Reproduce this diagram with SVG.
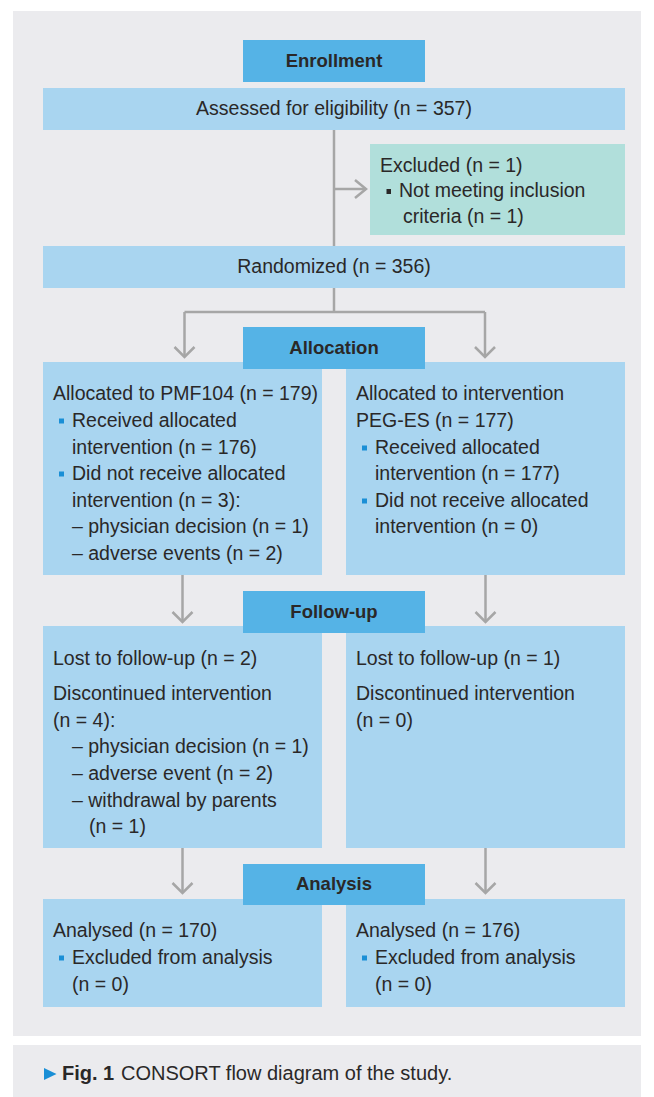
<svg xmlns="http://www.w3.org/2000/svg" width="654" height="1097" viewBox="0 0 654 1097">
<style>
text{font-family:"Liberation Sans",Arial,sans-serif;font-size:19.5px;fill:#2a2828}
.h{font-weight:bold;font-size:18.5px;text-anchor:middle}
.c{text-anchor:middle}
.cap{font-size:20px}
.hdr{fill:#55b3e6}
.box{fill:#a9d5f0}
.exc{fill:#b1dfdb}
.ln{stroke:#a6a6a6;stroke-width:2.5;fill:none}
.bl{fill:#1a8fd6}
</style>
<rect x="0" y="0" width="654" height="1097" fill="#ffffff"/>
<rect x="13" y="11" width="628" height="1025" fill="#ebebee"/>
<rect x="13" y="1045" width="628" height="52" fill="#ebebee"/>
<g id="connectors">
<path class="ln" d="M334 130 V246 M334 189 H366"/>
<polyline class="ln" points="355,180 366,189 355,198"/>
<path class="ln" d="M334 288 V312 M184.5 312 H485 M184.5 312 V357 M485 312 V357"/>
<polyline class="ln" points="174.5,347 184.5,357 194.5,347"/>
<polyline class="ln" points="475,347 485,357 495,347"/>
<path class="ln" d="M182.5 575 V622 M485.5 575 V622"/>
<polyline class="ln" points="172.5,612 182.5,622 192.5,612"/>
<polyline class="ln" points="475.5,612 485.5,622 495.5,612"/>
<path class="ln" d="M182.5 848 V893 M485.5 848 V893"/>
<polyline class="ln" points="172.5,883 182.5,893 192.5,883"/>
<polyline class="ln" points="475.5,883 485.5,893 495.5,883"/>
</g>
<g id="enrollment">
<rect class="hdr" x="243" y="40" width="182" height="42"/>
<text class="h" x="334" y="67">Enrollment</text>
</g>
<g id="assessed">
<rect class="box" x="43" y="88" width="582" height="42"/>
<text class="c" x="334" y="115">Assessed for eligibility (n = 357)</text>
</g>
<g id="excluded">
<rect class="exc" x="370" y="144" width="255" height="91"/>
<text x="380" y="172">Excluded (n = 1)</text>
<rect x="386.5" y="189" width="4.5" height="5" fill="#2a2828"/>
<text x="399" y="197">Not meeting inclusion</text>
<text x="403" y="223">criteria (n = 1)</text>
</g>
<g id="randomized">
<rect class="box" x="43" y="246" width="582" height="42"/>
<text class="c" x="334" y="273">Randomized (n = 356)</text>
</g>
<g id="alloc-left">
<rect class="box" x="43" y="362" width="279" height="213"/>
<text x="53" y="400">Allocated to PMF104 (n = 179)</text>
<rect class="bl" x="59" y="418.5" width="5" height="5"/>
<text x="72" y="427">Received allocated</text>
<text x="72" y="454">intervention (n = 176)</text>
<rect class="bl" x="59" y="471.5" width="5" height="5"/>
<text x="72" y="480">Did not receive allocated</text>
<text x="72" y="507">intervention (n = 3):</text>
<text x="72" y="533">– physician decision (n = 1)</text>
<text x="72" y="560">– adverse events (n = 2)</text>
</g>
<g id="alloc-right">
<rect class="box" x="346" y="362" width="279" height="213"/>
<text x="356" y="400">Allocated to intervention</text>
<text x="356" y="427">PEG-ES (n = 177)</text>
<rect class="bl" x="362" y="445.5" width="5" height="5"/>
<text x="375" y="454">Received allocated</text>
<text x="375" y="480">intervention (n = 177)</text>
<rect class="bl" x="362" y="498.5" width="5" height="5"/>
<text x="375" y="507">Did not receive allocated</text>
<text x="375" y="533">intervention (n = 0)</text>
</g>
<g id="allocation">
<rect class="hdr" x="243" y="327" width="182" height="42"/>
<text class="h" x="334" y="354">Allocation</text>
</g>
<g id="follow-left">
<rect class="box" x="43" y="626" width="279" height="222"/>
<text x="53" y="665">Lost to follow-up (n = 2)</text>
<text x="53" y="700">Discontinued intervention</text>
<text x="53" y="727">(n = 4):</text>
<text x="72" y="753">– physician decision (n = 1)</text>
<text x="72" y="780">– adverse event (n = 2)</text>
<text x="72" y="807">– withdrawal by parents</text>
<text x="89" y="833">(n = 1)</text>
</g>
<g id="follow-right">
<rect class="box" x="346" y="626" width="279" height="222"/>
<text x="356" y="665">Lost to follow-up (n = 1)</text>
<text x="356" y="700">Discontinued intervention</text>
<text x="356" y="727">(n = 0)</text>
</g>
<g id="followup">
<rect class="hdr" x="243" y="591" width="182" height="42"/>
<text class="h" x="334" y="618">Follow-up</text>
</g>
<g id="analysis-left">
<rect class="box" x="43" y="899" width="279" height="108"/>
<text x="53" y="937">Analysed (n = 170)</text>
<rect class="bl" x="59" y="955.5" width="5" height="5"/>
<text x="72" y="964">Excluded from analysis</text>
<text x="72" y="991">(n = 0)</text>
</g>
<g id="analysis-right">
<rect class="box" x="346" y="899" width="279" height="108"/>
<text x="356" y="937">Analysed (n = 176)</text>
<rect class="bl" x="362" y="955.5" width="5" height="5"/>
<text x="375" y="964">Excluded from analysis</text>
<text x="375" y="991">(n = 0)</text>
</g>
<g id="analysis">
<rect class="hdr" x="243" y="864" width="182" height="41"/>
<text class="h" x="334" y="890">Analysis</text>
</g>
<g id="caption">
<polygon points="44,1068 44,1080 56.5,1074" fill="#1a8fd6"/>
<text class="cap" x="62" y="1080" style="font-weight:bold">Fig. 1</text>
<text class="cap" x="121" y="1080">CONSORT flow diagram of the study.</text>
</g>
</svg>
